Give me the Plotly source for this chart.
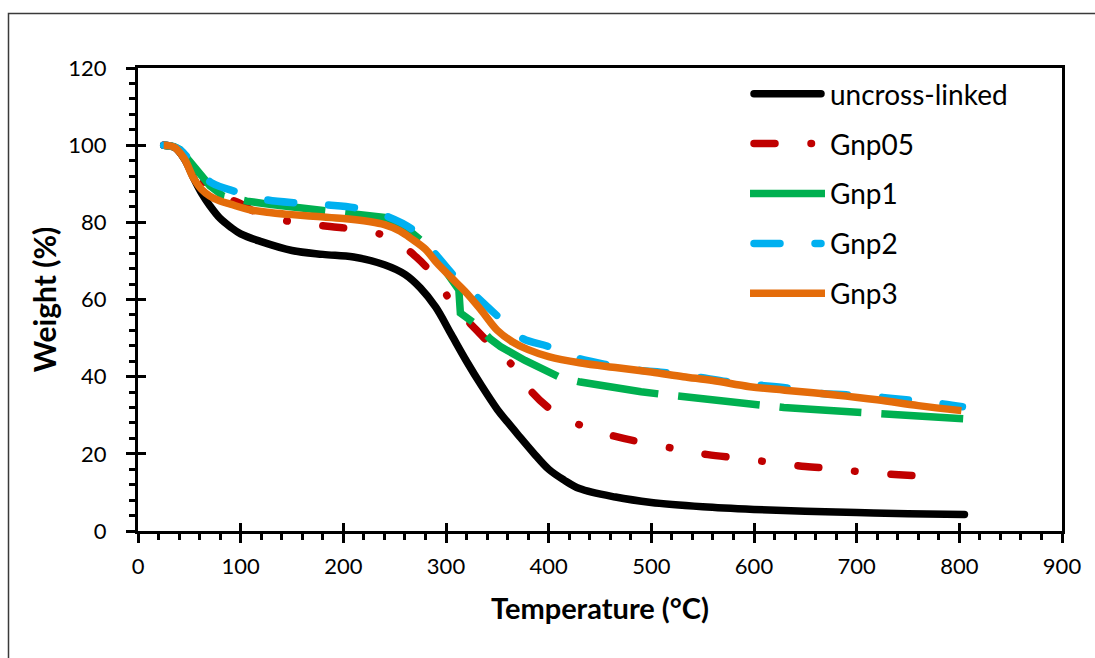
import plotly.graph_objects as go

# Thermogravimetric curves: weight (%) versus temperature (°C)
temp_uncross = [25, 35, 45, 55, 62, 70, 80, 90, 100, 120, 150, 180, 210, 240, 260, 275, 290, 305, 320, 335,
                350, 360, 370, 385, 400, 415, 430, 465, 500, 550, 600, 650, 700, 750, 805]
weight_uncross = [100, 99.5, 96.5, 91, 87.5, 84.3, 81, 78.8, 77, 75, 72.7, 71.7, 71, 69, 66.5, 63, 58, 51, 44, 37.5,
                  31.5, 28.2, 25, 20.3, 16, 13.2, 11, 8.8, 7.4, 6.3, 5.6, 5.1, 4.8, 4.5, 4.3]

temp_gnp05 = [25, 35, 48, 60, 75, 99, 119, 155, 187, 214, 246, 271, 290, 307, 330, 350, 369, 384, 408, 437,
              465, 496, 528, 555, 588, 619, 650, 679, 710, 741, 772]
weight_gnp05 = [100, 99.5, 97, 92, 87.5, 85, 82, 79.9, 78.9, 78.1, 76, 71, 65.6, 58.6, 52, 46.5, 41.8, 35.9, 30.4,
                26.8, 24.5, 22.7, 21.1, 19.8, 18.8, 17.7, 16.7, 16.2, 15.1, 14.6, 14.1]

temp_gnp1 = [25, 35, 41, 51, 60, 70, 83, 95, 106, 130, 160, 184, 203, 225, 242, 260, 277, 290, 300, 311, 312.5,
             314, 322, 330, 343, 353, 377, 411, 431, 460, 490, 511, 530, 560, 596, 629, 670, 708, 728, 760, 804]
weight_gnp1 = [100, 99.6, 98.8, 95.4, 92.2, 89.5, 86.8, 86, 85.5, 84.6, 83.8, 83.2, 82.7, 82, 81.2, 78.8, 75, 71,
               67.5, 63, 62.5, 56.5, 55, 53.4, 49.8, 47.8, 44.2, 39.8, 38.6, 37.2, 36.1, 35.4, 34.8, 33.9, 32.8,
               32, 31.3, 30.7, 30.3, 29.7, 29.1]

temp_gnp2 = [25, 35, 41, 53, 62, 72, 96, 126, 156, 185, 213, 244, 268, 289, 307, 330, 351, 374, 400, 426, 457,
             484, 515, 543, 574, 601, 632, 660, 690, 718, 748, 777, 803]
weight_gnp2 = [100, 99.6, 98.8, 95.4, 92.5, 90.2, 87.9, 85.8, 85, 84.5, 83.7, 81.4, 78, 72, 66.4, 60.7, 55.5, 50,
               47.8, 45, 43.1, 41.8, 41, 40, 38.7, 37.9, 37.1, 35.8, 35.3, 34.8, 34, 33.2, 32.2]

temp_gnp3 = [25, 35, 45, 54, 62, 70, 80, 90, 110, 130, 150, 175, 200, 225, 240, 255, 265, 280, 291, 305, 320,
             335, 350, 365, 380, 400, 430, 467, 500, 531, 560, 596, 630, 677, 720, 760, 802]
weight_gnp3 = [100, 99.5, 96.5, 91.5, 88.5, 86.8, 85.5, 84.7, 83.2, 82.5, 82, 81.5, 81, 80.2, 79.4, 77.8, 76, 73,
               69.5, 65.7, 61.7, 57, 52, 49, 47, 45.2, 43.6, 42.3, 41.2, 40, 39, 37.4, 36.5, 35.3, 34, 32.5, 31.2]

series = [
    ("uncross-linked", temp_uncross, weight_uncross, "#000000", "solid", "spline"),
    ("Gnp05", temp_gnp05, weight_gnp05, "#C00000", "21px,36px,0.5px,36px", "spline"),
    ("Gnp1", temp_gnp1, weight_gnp1, "#00B050", "82px,20px", "linear"),
    ("Gnp2", temp_gnp2, weight_gnp2, "#00B0F0", "26px,35px", "spline"),
    ("Gnp3", temp_gnp3, weight_gnp3, "#E46C0A", "solid", "spline"),
]

FONT = "Lato"
W, H = 1095, 658
L, R, T, B = 138, 33, 68, 127

fig = go.Figure()
for i, (name, xs, ys, color, dash, shape) in enumerate(series):
    fig.add_trace(go.Scatter(
        x=xs, y=ys, name=name, mode="lines", legendgroup=name,
        line=dict(color=color, width=7.5, dash=dash, shape=shape, smoothing=1.0 if shape == "spline" else None),
    ))

# helper trace so the overlaid axes (inner half of the crossing major ticks) get drawn
fig.add_trace(go.Scatter(x=[None], y=[None], xaxis="x2", yaxis="y2", showlegend=False, hoverinfo="skip"))

tick_font = dict(family=FONT, size=22, color="black")

fig.update_layout(
    width=W, height=H,
    margin=dict(l=L, r=R, t=T, b=B),
    paper_bgcolor="white", plot_bgcolor="white",
    xaxis=dict(range=[0, 900], tick0=0, dtick=100, showgrid=False, zeroline=False,
               showline=True, linewidth=3, linecolor="black", mirror=True,
               ticks="outside", ticklen=9, tickwidth=2.5, tickcolor="black",
               minor=dict(dtick=20, ticks="outside", ticklen=6, tickwidth=2.5, tickcolor="black", showgrid=False),
               tickfont=tick_font, ticklabelstandoff=5,
               title=dict(text="Temperature (°C)", standoff=21,
                          font=dict(family=FONT, size=29, color="black", weight="bold"))),
    yaxis=dict(range=[0, 120], tick0=0, dtick=20, showgrid=False, zeroline=False,
               showline=True, linewidth=3, linecolor="black", mirror=True,
               ticks="outside", ticklen=9, tickwidth=2.5, tickcolor="black",
               minor=dict(dtick=4, ticks="outside", ticklen=6, tickwidth=2.5, tickcolor="black", showgrid=False),
               tickfont=tick_font, ticklabelstandoff=15,
               title=dict(text="Weight (%)", standoff=3,
                          font=dict(family=FONT, size=30, color="black", weight="bold"))),
    xaxis2=dict(range=[0, 900], matches="x", overlaying="x", anchor="y2", side="bottom",
                tick0=0, dtick=100, ticks="inside", ticklen=8, tickwidth=2.5, tickcolor="black",
                showticklabels=False, showgrid=False, zeroline=False, showline=False),
    yaxis2=dict(range=[0, 120], matches="y", overlaying="y", anchor="x2", side="left",
                tick0=0, dtick=20, ticks="inside", ticklen=8, tickwidth=2.5, tickcolor="black",
                showticklabels=False, showgrid=False, zeroline=False, showline=False),
    legend=dict(x=(745 - L) / (W - L - R), y=(531 - 69) / (H - T - B), xanchor="left", yanchor="top",
                font=dict(family=FONT, size=28, color="black"), bgcolor="rgba(0,0,0,0)",
                itemwidth=75, tracegroupgap=10.5, traceorder="grouped"),
    showlegend=True,
)

# outer chart frame
pw, ph = W - L - R, H - T - B
fig.add_shape(type="rect", xref="paper", yref="paper",
              x0=(8.5 - L) / pw, x1=(W + 20 - L) / pw,
              y0=(531 - (H + 20)) / ph, y1=(531 - 13.5) / ph,
              line=dict(color="#3a3a3a", width=1.5), fillcolor="rgba(0,0,0,0)", layer="below")

# round caps on the rounded-dash series, and longer legend samples
post = """
var gd = document.getElementById('{plot_id}');
var roundIdx = [0, 1, 3];
var tr = gd.querySelectorAll('.subplot.xy .scatterlayer .trace');
roundIdx.forEach(function(i){
  if (tr[i]) { var p = tr[i].querySelector('path.js-line');
    if (p) { p.style.strokeLinecap = 'round'; p.style.strokeLinejoin = 'round'; } }
});
var items = gd.querySelectorAll('.legend .traces');
items.forEach(function(it, i){
  var p = it.querySelector('path.js-line');
  if (!p) return;
  if (roundIdx.indexOf(i) >= 0) { p.setAttribute('d', 'M9,0h67'); p.style.strokeLinecap = 'round'; }
  else { p.setAttribute('d', 'M5,0h75'); }
});
"""

fig.write_html("out.html", post_script=post)
